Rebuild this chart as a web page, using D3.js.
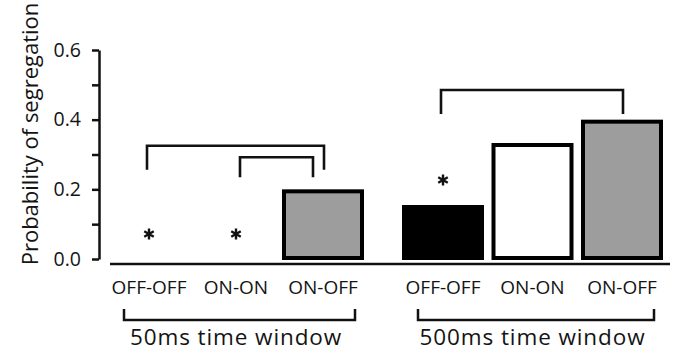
<!DOCTYPE html>
<html>
<head>
<meta charset="utf-8">
<script src="https://cdn.jsdelivr.net/npm/d3@7"></script>
<style>
  body { margin: 0; background: #fff; }
  svg { display: block; }
  text { font-family: "Open Sans", sans-serif; fill: #141414; }
</style>
</head>
<body>
<svg id="chart" width="674" height="354"></svg>
<script>
// ---- data ----
const categories = ["OFF-OFF", "ON-ON", "ON-OFF"];
const windows = ["50ms time window", "500ms time window"];
const values50 = [0, 0, 0.20];
const values500 = [0.155, 0.333, 0.40];
const starred50 = [true, true, false];
const starred500 = [true, false, false];
const yTicks = [0, 0.1, 0.2, 0.3, 0.4, 0.5, 0.6];
const yTickLabels = ["0.0", "", "0.2", "", "0.4", "", "0.6"];
const yTitle = "Probability of segregation";
// significance comparisons (group, from, to, bracket level in data units)
const brackets = [
  { group: 0, from: "OFF-OFF", to: "ON-OFF", level: 0.325, inner: false },
  { group: 0, from: "ON-ON",   to: "ON-OFF", level: 0.292, inner: true },
  { group: 1, from: "OFF-OFF", to: "ON-OFF", level: 0.485, inner: false }
];

// ---- layout ----
const svg = d3.select("#chart");
const fills = { "OFF-OFF": "#000", "ON-ON": "#fff", "ON-OFF": "#9d9d9d" };
const barW = 82, barStroke = 4;
const axisX = 99;

const y = d3.scaleLinear().domain([0, 0.6]).range([259, 50]);
const xs = [
  d3.scalePoint().domain(categories).range([149, 323]),
  d3.scalePoint().domain(categories).range([443, 622])
];
const groups = [
  { values: values50, starred: starred50 },
  { values: values500, starred: starred500 }
];

// y axis
const yAxis = d3.axisLeft(y)
  .tickValues(yTicks)
  .tickFormat((d, i) => yTickLabels[i])
  .tickSize(7)
  .tickSizeOuter(0)
  .tickPadding(11);
const gy = svg.append("g").attr("transform", `translate(${axisX},0)`).call(yAxis);
gy.select(".domain").attr("stroke", "#111").attr("stroke-width", 2.5);
gy.selectAll(".tick line").attr("stroke", "#111").attr("stroke-width", 2.5);
gy.selectAll(".tick text")
  .attr("font-family", "Open Sans, sans-serif")
  .attr("font-size", 19.5)
  .attr("fill", "#141414");

svg.append("text")
  .attr("transform", `translate(38,${134}) rotate(-90)`)
  .attr("text-anchor", "middle")
  .attr("font-size", 22)
  .text(yTitle);

// baseline
svg.append("line")
  .attr("x1", 110).attr("x2", 670)
  .attr("y1", 264).attr("y2", 264)
  .attr("stroke", "#111").attr("stroke-width", 2.5);

groups.forEach((g, gi) => {
  const x = xs[gi];
  const rows = categories.map((c, i) => ({ c, v: g.values[i], star: g.starred[i] }));

  // bars (zero-height bars are not drawn)
  svg.append("g").selectAll("rect")
    .data(rows.filter(d => d.v > 0))
    .join("rect")
    .attr("x", d => x(d.c) - barW / 2 + barStroke / 2)
    .attr("y", d => y(d.v) + barStroke / 2)
    .attr("width", barW - barStroke)
    .attr("height", d => y(0) + 1 - y(d.v) - barStroke)
    .attr("fill", d => fills[d.c])
    .attr("stroke", "#000")
    .attr("stroke-width", barStroke);

  // asterisks above significant bars
  const starR = 5.5;
  svg.append("g").selectAll("path")
    .data(rows.filter(d => d.star))
    .join("path")
    .attr("transform", d => `translate(${x(d.c)},${y(d.v + 0.072)})`)
    .attr("d", () => {
      const p = d3.path();
      [90, 30, 150].forEach(a => {
        const r = a * Math.PI / 180;
        p.moveTo(-starR * Math.cos(r), -starR * Math.sin(r));
        p.lineTo(starR * Math.cos(r), starR * Math.sin(r));
      });
      return p.toString();
    })
    .attr("stroke", "#111")
    .attr("stroke-width", 2.4);

  // category labels
  svg.append("g").selectAll("text")
    .data(categories)
    .join("text")
    .attr("x", d => x(d))
    .attr("y", 294)
    .attr("text-anchor", "middle")
    .attr("font-size", 19)
    .text(d => d);

  // group bracket and label
  const gl = x(categories[0]) - 25, gr = x(categories[categories.length - 1]) + 32;
  svg.append("path")
    .attr("d", `M${gl},309V320H${gr}V309`)
    .attr("fill", "none")
    .attr("stroke", "#111")
    .attr("stroke-width", 2.5);
  svg.append("text")
    .attr("x", (x(categories[0]) + x(categories[categories.length - 1])) / 2)
    .attr("y", 345)
    .attr("text-anchor", "middle")
    .attr("font-size", 22.5)
    .attr("letter-spacing", 0.9)
    .text(windows[gi]);
});

// significance brackets
svg.append("g").selectAll("path")
  .data(brackets)
  .join("path")
  .attr("d", d => {
    const x = xs[d.group];
    const x1 = x(d.from) + (d.inner ? 4 : -2);
    const x2 = x(d.to) + (d.inner ? -10 : 1);
    const yy = y(d.level);
    const leg = d.inner ? 20 : 24;
    return `M${x1},${yy + leg}V${yy}H${x2}V${yy + leg}`;
  })
  .attr("fill", "none")
  .attr("stroke", "#111")
  .attr("stroke-width", 2.6);
</script>
</body>
</html>
